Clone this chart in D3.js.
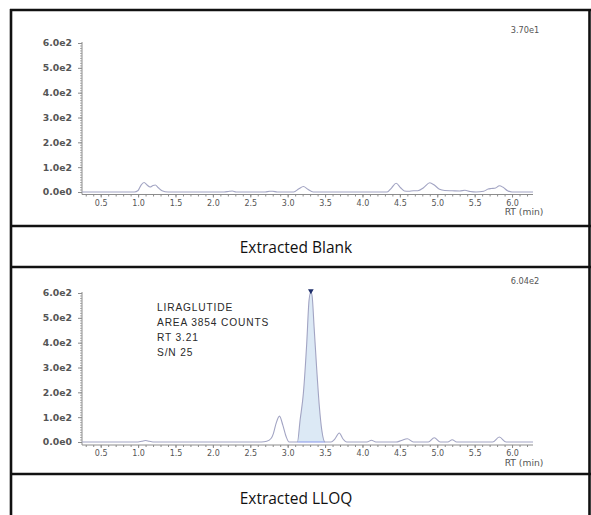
<!DOCTYPE html>
<html>
<head>
<meta charset="utf-8">
<script src="https://cdn.jsdelivr.net/npm/d3@7"></script>
<style>
  html, body { margin: 0; padding: 0; background: #fff; }
  svg { display: block; }
  .tick text { font-family: "DejaVu Sans", sans-serif; fill: #555; }
</style>
</head>
<body>
<svg id="chart" width="591" height="515"></svg>
<script>
// ---------- data ----------
const panelTitles = ["Extracted Blank", "Extracted LLOQ"];
const panelMax = ["3.70e1", "6.04e2"];

const blankTime = [0.25, 0.95, 1.00, 1.04, 1.08, 1.12, 1.16, 1.20, 1.23, 1.27, 1.32, 1.40,
  2.15, 2.22, 2.26, 2.31, 2.70, 2.76, 2.80, 2.86, 3.08, 3.15, 3.21, 3.27, 3.34,
  4.33, 4.39, 4.45, 4.51, 4.56, 4.62, 4.68, 4.74, 4.82, 4.90, 4.96, 5.03, 5.10, 5.20,
  5.30, 5.37, 5.44, 5.52, 5.62, 5.68, 5.72, 5.78, 5.83, 5.88, 5.94, 6.00, 6.28];
const blankSignal = [0, 0, 6, 28, 38, 28, 20, 26, 28, 17, 5, 0,
  0, 3, 4, 0, 0, 3, 3, 0, 0, 13, 22, 11, 0,
  0, 17, 35, 17, 4, 3, 5, 5, 18, 37, 28, 11, 6, 5,
  4, 7, 2, 0, 3, 12, 14, 16, 25, 19, 5, 0, 0];

const lloqTime = [0.25, 1.00, 1.05, 1.10, 1.15, 1.22,
  2.65, 2.72, 2.78, 2.81, 2.845, 2.89, 2.935, 2.98, 3.02,
  3.13, 3.166, 3.21, 3.255, 3.286, 3.31, 3.326, 3.353, 3.389, 3.424, 3.456, 3.50,
  3.58, 3.63, 3.69, 3.74, 3.79, 4.06, 4.12, 4.18, 4.45, 4.52, 4.60, 4.68,
  4.88, 4.96, 5.04, 5.14, 5.20, 5.26, 5.74, 5.83, 5.92, 6.28];
const lloqSignal = [0, 0, 3, 6, 3, 0,
  0, 3, 15, 35, 75, 104, 68, 21, 0,
  0, 88, 197, 399, 572, 604, 590, 464, 290, 141, 48, 0,
  0, 12, 36, 12, 0, 0, 7, 0, 0, 6, 13, 0,
  0, 17, 0, 0, 9, 0, 0, 20, 0, 0];

const peakStart = 3.13, peakEnd = 3.50, peakApex = 3.31, peakHeight = 604;
const annotation = ["LIRAGLUTIDE", "AREA 3854 COUNTS", "RT 3.21", "S/N 25"];

const xMajor = [0.5, 1.0, 1.5, 2.0, 2.5, 3.0, 3.5, 4.0, 4.5, 5.0, 5.5, 6.0];
const xMinor = d3.range(3, 63).map(i => i / 10);
const yMajor = [0, 100, 200, 300, 400, 500, 600];
const yMinor = d3.range(0, 61).map(i => i * 10);
const yLabels = ["0.0e0", "1.0e2", "2.0e2", "3.0e2", "4.0e2", "5.0e2", "6.0e2"];

// ---------- layout ----------
const svg = d3.select("#chart");
const traceColor = "#a2a4c3";
const axisColor = "#8c8c8c";

const x = d3.scaleLinear().domain([0.25, 6.28]).range([82, 533]);

const panels = [
  { time: blankTime, signal: blankSignal, zeroY: 192, topY: 43, axisY: 194.5, maxY: 30, titleY: 247 },
  { time: lloqTime, signal: lloqSignal, zeroY: 442, topY: 293, axisY: 445, maxY: 281, titleY: 498 }
];

// frame lines
const frame = svg.append("g").attr("stroke", "#111").attr("stroke-width", 2.6);
[10, 226, 267, 474].forEach(yy => frame.append("line").attr("x1", 10).attr("x2", 591).attr("y1", yy).attr("y2", yy));
frame.append("line").attr("x1", 11).attr("x2", 11).attr("y1", 9).attr("y2", 515);
frame.append("line").attr("x1", 589.5).attr("x2", 589.5).attr("y1", 9).attr("y2", 515);

panels.forEach((p, i) => {
  const y = d3.scaleLinear().domain([0, 600]).range([p.zeroY, p.topY]);
  const g = svg.append("g");
  const pts = p.time.map((t, k) => [t, p.signal[k]]);

  // x axis (major + minor)
  const xAxisG = g.append("g").attr("transform", `translate(0,${p.axisY})`)
    .call(d3.axisBottom(x).tickValues(xMajor).tickFormat(d => d.toFixed(1)).tickSize(3).tickPadding(2));
  xAxisG.select(".domain").attr("stroke", axisColor).attr("d", `M${x(0.25)},0H${x(6.28)}`);
  xAxisG.selectAll(".tick line").attr("stroke", axisColor);
  xAxisG.selectAll(".tick text").attr("font-size", 8).attr("dy", "0.75em");
  const xMinorG = g.append("g").attr("transform", `translate(0,${p.axisY})`)
    .call(d3.axisBottom(x).tickValues(xMinor).tickFormat("").tickSize(2));
  xMinorG.select(".domain").remove();
  xMinorG.selectAll(".tick line").attr("stroke", axisColor);

  // y axis
  const yAxisG = g.append("g").attr("transform", `translate(82,0)`)
    .call(d3.axisLeft(y).tickValues(yMajor).tickFormat((d, k) => yLabels[k]).tickSize(4).tickPadding(6));
  yAxisG.select(".domain").attr("stroke", axisColor).attr("d", `M0,${p.topY - 1}V${p.axisY}`);
  yAxisG.selectAll(".tick line").attr("stroke", axisColor);
  yAxisG.selectAll(".tick text").attr("font-size", 9.3).attr("font-weight", "bold").attr("fill", "#666");
  const yMinorG = g.append("g").attr("transform", `translate(82,0)`)
    .call(d3.axisLeft(y).tickValues(yMinor).tickFormat("").tickSize(2));
  yMinorG.select(".domain").remove();
  yMinorG.selectAll(".tick line").attr("stroke", axisColor).attr("stroke-width", 0.7);

  // RT (min)
  g.append("text").attr("x", 524).attr("y", p.axisY + 20.5)
    .attr("text-anchor", "middle").attr("font-family", "DejaVu Sans, sans-serif")
    .attr("font-size", 9.2).attr("fill", "#555").text("RT (min)");

  // max label
  g.append("text").attr("x", 525).attr("y", p.maxY + 3)
    .attr("text-anchor", "middle").attr("font-family", "DejaVu Sans, sans-serif")
    .attr("font-size", 8.2).attr("fill", "#555").text(panelMax[i]);

  // integrated peak (LLOQ only)
  if (i === 1) {
    const peakPts = pts.filter(d => d[0] >= peakStart && d[0] <= peakEnd);
    g.append("path").datum(peakPts)
      .attr("fill", "#dce9f5")
      .attr("d", d3.area().x(d => x(d[0])).y0(y(0)).y1(d => y(d[1])).curve(d3.curveMonotoneX));
    g.append("line").attr("x1", x(peakStart)).attr("x2", x(peakEnd))
      .attr("y1", y(0)).attr("y2", y(0)).attr("stroke", "#8594e8").attr("stroke-width", 1);
  }

  // trace
  g.append("path").datum(pts)
    .attr("fill", "none").attr("stroke", traceColor).attr("stroke-width", 1.1)
    .attr("d", d3.line().x(d => x(d[0])).y(d => y(d[1])).curve(d3.curveMonotoneX));

  if (i === 1) {
    g.append("path")
      .attr("d", d3.symbol(d3.symbolTriangle, 14)())
      .attr("transform", `translate(${x(peakApex)},${y(peakHeight) - 1}) rotate(180)`)
      .attr("fill", "#1f2f6b");
    const ann = g.append("text").attr("font-family", "Liberation Sans, Arial, sans-serif")
      .attr("font-size", 10.2).attr("letter-spacing", 0.85).attr("fill", "#2a2a2a");
    annotation.forEach((s, k) => {
      ann.append("tspan").attr("x", 157).attr("y", 310.5 + k * 15.3).text(s);
    });
  }

  // panel title
  svg.append("text").attr("x", 296).attr("y", p.titleY + 5.5)
    .attr("text-anchor", "middle").attr("font-family", "Open Sans, sans-serif")
    .attr("font-size", 15.5).attr("fill", "#111").text(panelTitles[i]);
});
</script>
</body>
</html>
